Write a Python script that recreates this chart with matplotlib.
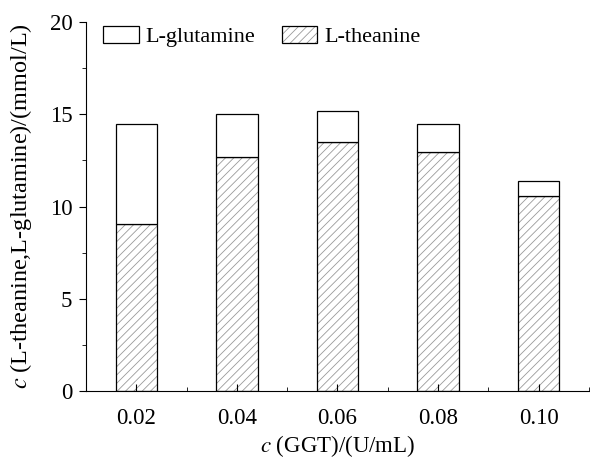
import matplotlib
matplotlib.use("Agg")
import matplotlib.pyplot as plt
import numpy as np
from matplotlib.ticker import MultipleLocator

plt.rcParams['font.family'] = ['Liberation Serif', 'DejaVu Serif']
plt.rcParams['mathtext.fontset'] = 'stix'
plt.rcParams['hatch.linewidth'] = 0.6

# data
ggt = [0.02, 0.04, 0.06, 0.08, 0.10]
theanine = [9.05, 12.7, 13.5, 12.95, 10.55]
total = [14.5, 15.0, 15.2, 14.5, 11.4]
glutamine = list(np.array(total) - np.array(theanine))

fig = plt.figure(figsize=(5.9, 4.62), dpi=100)
ax = fig.add_axes([0.146, 0.154, 0.852, 0.798])

w = 0.0082
# hatch in light grey, outline in black drawn on top
b_hatch = ax.bar(ggt, theanine, width=w, color='white', edgecolor='#9a9a9a',
                 linewidth=0, hatch='////')
b_th = ax.bar(ggt, theanine, width=w, fill=False, edgecolor='black', linewidth=0.9)
b_gl = ax.bar(ggt, glutamine, width=w, bottom=theanine, color='white',
              edgecolor='black', linewidth=0.9)

ax.set_xlim(0.01, 0.11)
ax.set_ylim(0, 20)
ax.set_xticks(ggt)
ax.set_xticklabels(['%.2f' % v for v in ggt])
ax.xaxis.set_minor_locator(MultipleLocator(0.01))
ax.yaxis.set_major_locator(MultipleLocator(5))
ax.yaxis.set_minor_locator(MultipleLocator(2.5))
ax.tick_params(axis='x', which='both', direction='in', labelsize=16.5, pad=12)
ax.tick_params(axis='x', which='major', length=5)
ax.tick_params(axis='x', which='minor', length=3)
ax.tick_params(axis='y', which='both', direction='out', labelsize=16.5, pad=5)
ax.tick_params(axis='y', which='major', length=5)
ax.tick_params(axis='y', which='minor', length=3)
for s in ['top', 'right']:
    ax.spines[s].set_visible(False)

ax.set_xlabel(r'$c$ (GGT)/(U/mL)', fontsize=16.5, labelpad=3)
ax.set_ylabel(r'$c$ (L-theanine,L-glutamine)/(mmol/L)', fontsize=17.5)
ax.yaxis.set_label_coords(-0.104, 0.5)

ax.legend([b_gl, (b_hatch, b_th)], ['L-glutamine', 'L-theanine'], ncol=2,
          frameon=False, fontsize=16, loc='upper left',
          bbox_to_anchor=(-0.006, 1.045), handlelength=1.6, handleheight=0.8,
          columnspacing=1.2, handletextpad=0.3)

fig.savefig('out.png', dpi=100)
